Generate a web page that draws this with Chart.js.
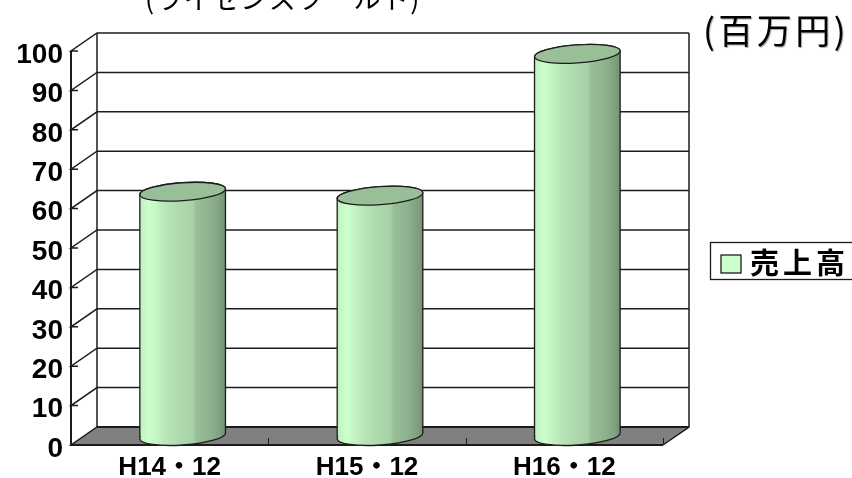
<!DOCTYPE html>
<html lang="ja">
<head>
<meta charset="utf-8">
<title>売上高</title>
<script src="https://cdn.jsdelivr.net/npm/chart.js@4"></script>
<style>
    html, body { margin: 0; padding: 0; background: #fff; }
    canvas { display: block; }
</style>
</head>
<body>
<canvas id="salesChart" width="852" height="478"></canvas>
<script>
// Chart values
const periods = ['H14・12', 'H15・12', 'H16・12'];
const sales = [62, 61, 97];
const seriesName = '売上高';
const pageTitle = '(ライセンスツールト)';
const unitLabel = '(百万円)';
const yTicks = [0, 10, 20, 30, 40, 50, 60, 70, 80, 90, 100];

// Offset between the front plane and the back wall
const DEPTH_X = 26;
const DEPTH_Y = 18;
const CAP_RY = 9;
const CAP_TILT = -0.07;
const BAR_SHARE = 0.435;
const LINE = '#1c1c1c';
const JP_FONT = '"Noto Sans CJK JP", "Noto Sans", sans-serif';
const LATIN_FONT = '"Liberation Sans", "Noto Sans CJK JP", sans-serif';

// Shading across a cylinder, light on the left and darker to the right
function cylinderGradient(ctx, left, right) {
    const g = ctx.createLinearGradient(left, 0, right, 0);
    g.addColorStop(0, '#bfeebf');
    g.addColorStop(0.05, '#c6f7c6');
    g.addColorStop(0.12, '#ccffcc');
    g.addColorStop(0.28, '#bbe9bb');
    g.addColorStop(0.45, '#afdaaf');
    g.addColorStop(0.62, '#a8d1a8');
    g.addColorStop(0.66, '#98be98');
    g.addColorStop(0.82, '#8eb28e');
    g.addColorStop(0.92, '#83a383');
    g.addColorStop(1, '#749074');
    return g;
}

function barColor(context) {
    const chart = context.chart;
    const x = chart.scales.x;
    if (!x || !x.width || context.dataIndex === undefined) {
        return '#ccffcc';
    }
    const half = x.width / periods.length * BAR_SHARE / 2;
    const center = x.getPixelForValue(context.dataIndex);
    return cylinderGradient(chart.ctx, center - half, center + half);
}

function silhouette(ctx, bar) {
    const rx = bar.width / 2;
    ctx.beginPath();
    ctx.ellipse(bar.x, bar.y, rx, CAP_RY, CAP_TILT, Math.PI, Math.PI * 2);
    ctx.ellipse(bar.x, bar.base, rx, CAP_RY, CAP_TILT, 0, Math.PI);
    ctx.closePath();
}

// Draws the walls, floor and gridlines behind the bars
const walls = {
    id: 'walls',
    beforeDatasetsDraw(chart) {
        const { ctx, chartArea: area } = chart;
        const y = chart.scales.y;
        const zero = y.getPixelForValue(0);
        const top = y.getPixelForValue(100);
        ctx.save();

        ctx.fillStyle = '#808080';
        ctx.beginPath();
        ctx.moveTo(area.left, zero);
        ctx.lineTo(area.left + DEPTH_X, zero - DEPTH_Y);
        ctx.lineTo(area.right + DEPTH_X, zero - DEPTH_Y);
        ctx.lineTo(area.right, zero);
        ctx.closePath();
        ctx.fill();

        ctx.strokeStyle = LINE;
        ctx.lineWidth = 1.5;
        yTicks.forEach(value => {
            const py = y.getPixelForValue(value);
            ctx.beginPath();
            ctx.moveTo(area.left + 7, py);
            ctx.lineTo(area.left, py);
            ctx.lineTo(area.left + DEPTH_X, py - DEPTH_Y);
            ctx.lineTo(area.right + DEPTH_X, py - DEPTH_Y);
            ctx.stroke();
        });

        // Wall corners and axis lines
        ctx.beginPath();
        ctx.moveTo(area.left + DEPTH_X, top - DEPTH_Y);
        ctx.lineTo(area.left + DEPTH_X, zero - DEPTH_Y);
        ctx.moveTo(area.right + DEPTH_X, top - DEPTH_Y);
        ctx.lineTo(area.right + DEPTH_X, zero - DEPTH_Y);
        ctx.lineTo(area.right, zero);
        ctx.stroke();

        ctx.lineWidth = 2;
        ctx.beginPath();
        ctx.moveTo(area.left, top);
        ctx.lineTo(area.left, zero);
        ctx.lineTo(area.right, zero);
        ctx.moveTo(area.left + DEPTH_X, zero - DEPTH_Y);
        ctx.lineTo(area.right + DEPTH_X, zero - DEPTH_Y);
        ctx.stroke();

        // Small marks between the categories on the floor edge
        const step = (area.right - area.left) / periods.length;
        ctx.lineWidth = 1;
        for (let i = 1; i <= periods.length; i++) {
            const px = Math.round(area.left + step * i) + 0.5;
            ctx.beginPath();
            ctx.moveTo(px, zero);
            ctx.lineTo(px, zero - 7);
            ctx.stroke();
        }
        ctx.restore();
    },
    // Bars sit in the middle of the floor depth, trimmed to a cylinder outline
    beforeDatasetDraw(chart, args) {
        const { ctx } = chart;
        ctx.save();
        ctx.translate(DEPTH_X / 2, -DEPTH_Y / 2);
        const outline = new Path2D();
        args.meta.data.forEach(bar => {
            const rx = bar.width / 2;
            outline.ellipse(bar.x, bar.y, rx, CAP_RY, CAP_TILT, Math.PI, Math.PI * 2);
            outline.ellipse(bar.x, bar.base, rx, CAP_RY, CAP_TILT, 0, Math.PI);
            outline.closePath();
        });
        ctx.clip(outline);
    },
    afterDatasetDraw(chart, args) {
        const { ctx } = chart;
        ctx.restore();
        ctx.save();
        ctx.translate(DEPTH_X / 2, -DEPTH_Y / 2);
        args.meta.data.forEach(bar => {
            const rx = bar.width / 2;

            // Rounded foot of the cylinder
            ctx.fillStyle = cylinderGradient(ctx, bar.x - rx, bar.x + rx);
            ctx.beginPath();
            ctx.ellipse(bar.x, bar.base, rx, CAP_RY, CAP_TILT, 0, Math.PI * 2);
            ctx.fill();

            silhouette(ctx, bar);
            ctx.strokeStyle = LINE;
            ctx.lineWidth = 1.3;
            ctx.stroke();

            // Top face
            ctx.fillStyle = '#99bf99';
            ctx.beginPath();
            ctx.ellipse(bar.x, bar.y, rx, CAP_RY, CAP_TILT, 0, Math.PI * 2);
            ctx.fill();
            ctx.stroke();
        });
        ctx.restore();
    }
};

// Heading, unit and series key around the plot
const annotations = {
    id: 'annotations',
    afterDraw(chart) {
        const { ctx } = chart;
        ctx.save();
        ctx.textBaseline = 'alphabetic';
        ctx.textAlign = 'left';
        ctx.fillStyle = '#000';

        ctx.font = '400 27px ' + JP_FONT;
        ctx.letterSpacing = '1.3px';
        ctx.fillText(pageTitle, 145, 9);

        ctx.shadowColor = 'rgba(0,0,0,0.35)';
        ctx.shadowOffsetX = 1;
        ctx.shadowOffsetY = 1;
        ctx.shadowBlur = 1;
        ctx.font = '400 35px ' + JP_FONT;
        ctx.letterSpacing = '3.5px';
        ctx.fillText(unitLabel, 703, 44);
        ctx.shadowColor = 'transparent';

        ctx.strokeStyle = LINE;
        ctx.lineWidth = 1.3;
        ctx.strokeRect(710.5, 242.5, 160, 37);
        ctx.fillStyle = '#ccffcc';
        ctx.fillRect(721, 255, 20, 18);
        ctx.strokeRect(721, 255, 20, 18);

        ctx.fillStyle = '#000';
        ctx.font = '700 29px ' + JP_FONT;
        ctx.letterSpacing = '4px';
        ctx.fillText(chart.data.datasets[0].label, 750, 274);
        ctx.restore();
    }
};

new Chart(document.getElementById('salesChart').getContext('2d'), {
    type: 'bar',
    data: {
        labels: periods,
        datasets: [
            {
                label: seriesName,
                data: sales,
                backgroundColor: barColor,
                borderWidth: 0,
                categoryPercentage: BAR_SHARE,
                barPercentage: 1
            }
        ]
    },
    options: {
        responsive: false,
        animation: false,
        layout: {
            padding: { top: 51, right: 189, left: 0, bottom: 0 }
        },
        plugins: {
            legend: { display: false },
            title: { display: false },
            tooltip: { enabled: false }
        },
        scales: {
            x: {
                grid: { display: false, drawTicks: false },
                border: { display: false },
                afterFit(scale) { scale.height = 33; },
                ticks: {
                    color: '#000',
                    padding: 7,
                    maxRotation: 0,
                    font: { family: LATIN_FONT, size: 26, weight: 'bold' }
                }
            },
            y: {
                min: 0,
                max: 100,
                grid: { display: false, drawTicks: false },
                border: { display: false },
                afterFit(scale) { scale.width = 71; },
                afterBuildTicks(scale) { scale.ticks = yTicks.map(value => ({ value })); },
                ticks: {
                    color: '#000',
                    padding: 8,
                    labelOffset: 4,
                    autoSkip: false,
                    font: { family: LATIN_FONT, size: 28, weight: 'bold' }
                }
            }
        }
    },
    plugins: [walls, annotations]
});
</script>
</body>
</html>
